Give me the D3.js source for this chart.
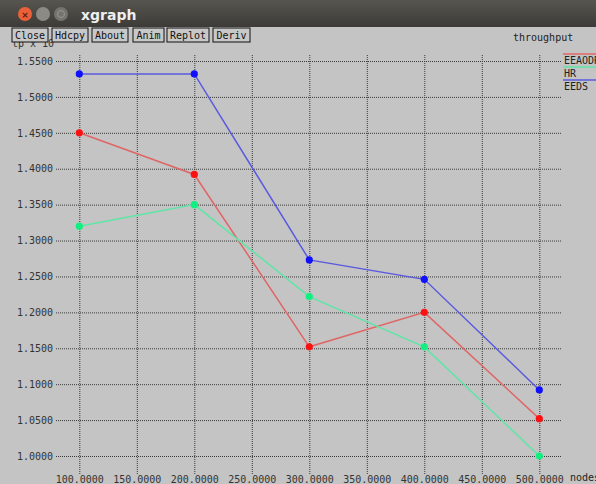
<!DOCTYPE html>
<html>
<head>
<meta charset="utf-8">
<script src="https://cdn.jsdelivr.net/npm/d3@7"></script>
<style>
  html, body { margin: 0; padding: 0; background: #c4c4c4; overflow: hidden; }
  svg { display: block; }
</style>
</head>
<body>
<svg id="chart" width="596" height="484"></svg>
<script>
// Throughput versus number of nodes for three routing schemes
const nodes = [100, 200, 300, 400, 500];
const seriesNames = ["EEAODR", "HR", "EEDS"];
const eeaodr = [1.450, 1.392, 1.152, 1.200, 1.052];
const hr     = [1.320, 1.350, 1.222, 1.152, 1.000];
const eeds   = [1.532, 1.532, 1.273, 1.246, 1.092];
const xTicks = [100, 150, 200, 250, 300, 350, 400, 450, 500];
const yTicks = [1.00, 1.05, 1.10, 1.15, 1.20, 1.25, 1.30, 1.35, 1.40, 1.45, 1.50, 1.55];
const buttonLabels = ["Close", "Hdcpy", "About", "Anim", "Replot", "Deriv"];

const lineColors   = ["#e06666", "#5ee6a6", "#5a5ae0"];
const markerColors = ["#ff1010", "#10f080", "#1010ff"];
const seriesData = [eeaodr, hr, eeds];

const svg = d3.select("#chart");
const mono = "'DejaVu Sans Mono', 'Liberation Mono', monospace";

// ---- window title bar ----
const grad = svg.append("defs").append("linearGradient")
  .attr("id", "tb").attr("x1", 0).attr("y1", 0).attr("x2", 0).attr("y2", 1);
grad.append("stop").attr("offset", "0%").attr("stop-color", "#57554f");
grad.append("stop").attr("offset", "100%").attr("stop-color", "#3c3b37");
svg.append("rect").attr("x", 0).attr("y", 0).attr("width", 596).attr("height", 27)
  .attr("fill", "url(#tb)");
svg.append("circle").attr("cx", 25).attr("cy", 14).attr("r", 7).attr("fill", "#e9603a");
svg.append("text").attr("x", 25).attr("y", 17.5).attr("text-anchor", "middle")
  .attr("font-family", "DejaVu Sans").attr("font-size", 9).attr("font-weight", "bold")
  .attr("fill", "#5a2010").text("×");
svg.append("circle").attr("cx", 43).attr("cy", 14).attr("r", 7).attr("fill", "#8c8a85");
svg.append("circle").attr("cx", 61).attr("cy", 14).attr("r", 7).attr("fill", "#75736e");
svg.append("circle").attr("cx", 61).attr("cy", 14).attr("r", 3.5).attr("fill", "none")
  .attr("stroke", "#9a9893").attr("stroke-width", 1);
svg.append("text").attr("x", 81).attr("y", 20).attr("font-family", "'DejaVu Sans', sans-serif")
  .attr("font-size", 14).attr("font-weight", "bold").attr("fill", "#efefef").text("xgraph");

// axis unit label, partially tucked under the buttons
svg.append("text").attr("x", 12).attr("y", 47).attr("font-family", mono)
  .attr("font-size", 10).attr("fill", "#333").text("tp x 10");

// ---- button row ----
const btnX = [12, 52, 92, 133, 167, 213];
const btnW = [36, 36, 36, 31, 42, 37];
const btn = svg.append("g").selectAll("g").data(buttonLabels).join("g")
  .attr("transform", (d, i) => `translate(${btnX[i]},28)`);
btn.append("rect").attr("width", (d, i) => btnW[i]).attr("height", 14)
  .attr("fill", "#c8c8c8").attr("stroke", "#111").attr("stroke-width", 1);
btn.append("text").attr("x", (d, i) => btnW[i] / 2).attr("y", 10.5)
  .attr("text-anchor", "middle").attr("font-family", mono).attr("font-size", 10)
  .attr("fill", "#111").text(d => d);

svg.append("text").attr("x", 513).attr("y", 41).attr("font-family", mono)
  .attr("font-size", 10).attr("fill", "#222").text("throughput");

// ---- scales ----
const x = d3.scaleLinear().domain([100, 500]).range([79.3, 539.3]);
const y = d3.scaleLinear().domain([1.0, 1.55]).range([456, 61]);

const gridLeft = 56, gridRight = 561, gridTop = 55, gridBottom = 474;

// y axis with grid lines across the plot
const yAxis = svg.append("g").attr("transform", `translate(${gridRight},0)`)
  .call(d3.axisLeft(y).tickValues(yTicks).tickFormat(d3.format(".4f"))
    .tickSize(gridRight - gridLeft).tickPadding(3));
yAxis.select(".domain").remove();
yAxis.selectAll("line").attr("stroke", "#3a3a3a").attr("stroke-dasharray", "1,1");
yAxis.selectAll("text").attr("font-family", mono).attr("font-size", 10).attr("fill", "#333");

// x axis with vertical grid lines
const xAxis = svg.append("g").attr("transform", `translate(0,${gridTop})`)
  .call(d3.axisBottom(x).tickValues(xTicks).tickFormat(d3.format(".4f"))
    .tickSize(gridBottom - gridTop).tickPadding(2));
xAxis.select(".domain").remove();
xAxis.selectAll("line").attr("stroke", "#3a3a3a").attr("stroke-dasharray", "1,1");
xAxis.selectAll("text").attr("font-family", mono).attr("font-size", 10).attr("fill", "#333");

svg.append("text").attr("x", 570).attr("y", 481).attr("font-family", mono)
  .attr("font-size", 10).attr("fill", "#222").text("nodes");

// ---- series ----
const line = d3.line().x((d, i) => x(nodes[i])).y(d => y(d));
seriesData.forEach((vals, k) => {
  svg.append("path").datum(vals).attr("d", line).attr("fill", "none")
    .attr("stroke", lineColors[k]).attr("stroke-width", 1.5);
  svg.append("g").selectAll("circle").data(vals).join("circle")
    .attr("cx", (d, i) => x(nodes[i])).attr("cy", d => y(d)).attr("r", 3.6)
    .attr("fill", markerColors[k]);
});

// ---- legend ----
const leg = svg.append("g").selectAll("g").data(seriesNames).join("g")
  .attr("transform", (d, i) => `translate(563,${54 + i * 13})`);
leg.append("line").attr("x1", 0).attr("x2", 40).attr("y1", 0).attr("y2", 0)
  .attr("stroke", (d, i) => lineColors[i]).attr("stroke-width", 1.5);
leg.append("text").attr("x", 1).attr("y", 9.5).attr("font-family", mono)
  .attr("font-size", 10).attr("fill", "#222").text(d => d);
</script>
</body>
</html>
